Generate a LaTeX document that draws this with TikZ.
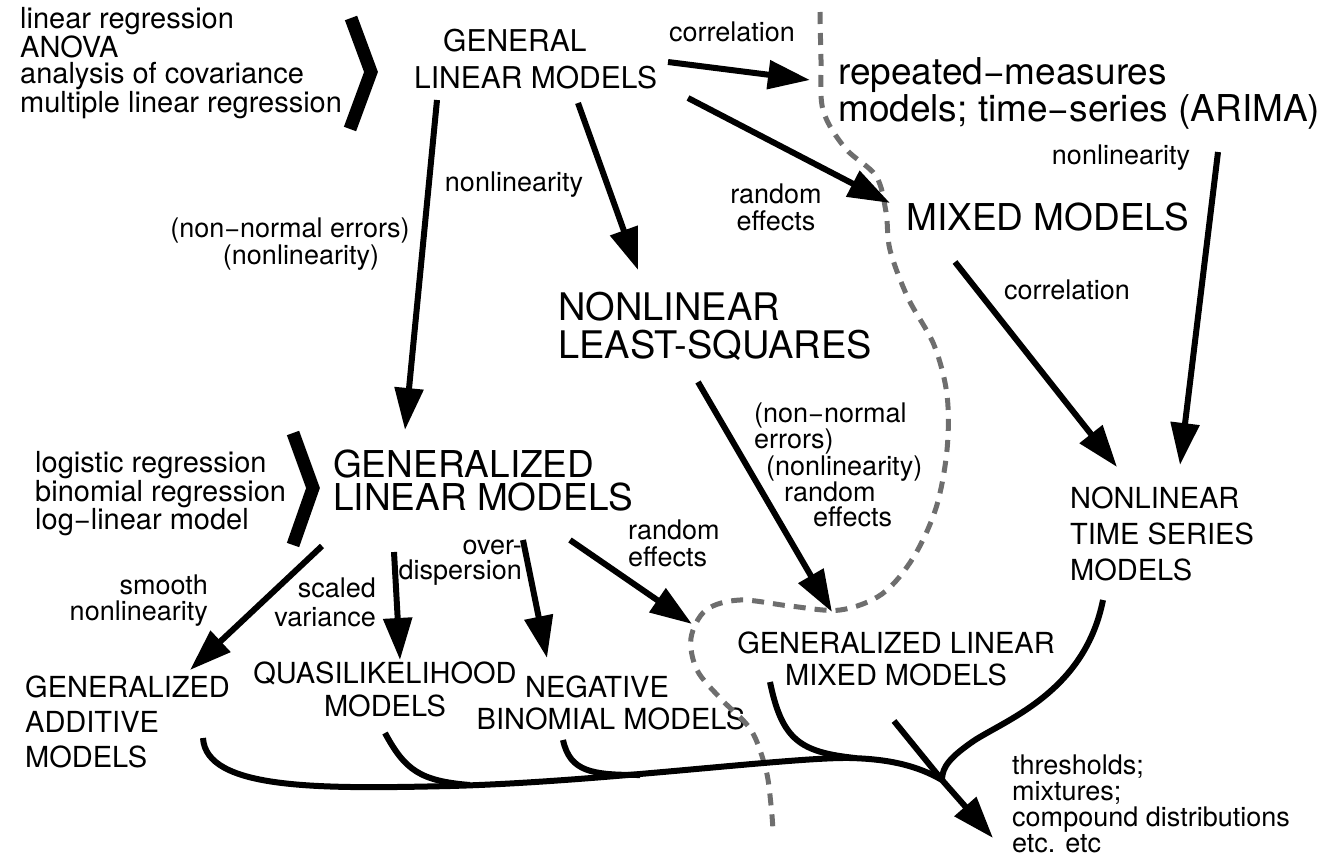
\documentclass[tikz,border=0pt]{standalone}
\usepackage{fontspec}
\setmainfont{TeX Gyre Heros}
\usetikzlibrary{arrows.meta}
\definecolor{sepgray}{RGB}{110,110,110}
\newcommand\myfs[2]{\fontsize{#1}{#2}\selectfont}
\tikzset{
  lbl/.style={inner sep=0pt, font=\myfs{27}{26}},
  big/.style={inner sep=0pt, font=\myfs{37}{37}},
  mid/.style={inner sep=0pt, font=\myfs{29}{35}},
  arr/.style={line width=6pt, -{Triangle[length=42pt,width=28pt]}},
  link/.style={line width=6pt},
  chev/.style={line width=13pt, miter limit=10},
  sepline/.style={line width=5pt, dash pattern=on 12pt off 9pt, color=sepgray},
}
\begin{document}
\begin{tikzpicture}[x=1pt,y=-1pt]
\useasboundingbox (0,0) rectangle (1328,856);

% ---------- texts ----------
\node[lbl, anchor=west, align=left, font=\myfs{29}{26.3}] (lst1) at (20,63)
  {linear regression\\ANOVA\\analysis of covariance\\multiple linear regression};
\node[mid, anchor=west, align=left, font=\myfs{30}{37}] (glm) at (414,59)
  {\hspace*{29pt}GENERAL\\LINEAR MODELS};
\node[lbl] (corrTop) at (732,32) {correlation};
\node[big, anchor=west, align=left] (rm) at (838,93)
  {repeated−measures\\models; time−series (ARIMA)};
\node[lbl] (nlTR) at (1121,158) {nonlinearity};
\node[lbl, align=center, font=\myfs{27}{27}] (reMix) at (776,207) {random\\effects};
\node[big] (mixed) at (1048,217) {MIXED MODELS};
\node[lbl] (nlMid) at (514,185) {nonlinearity};
\node[lbl, align=center, font=\myfs{27}{24}] (nnErr) at (290,244)
  {(non−normal errors)\\\hspace*{22pt}(nonlinearity)};
\node[lbl] (corrMid) at (1067,290) {correlation};
\node[big, anchor=west, align=left, font=\myfs{38}{38}] (nls) at (558,326)
  {NONLINEAR\\LEAST-SQUARES};
\node[lbl, anchor=west, align=left, font=\myfs{27}{25}] (nnErr2) at (754,465)
  {(non−normal\\errors)\\\hspace*{12pt}(nonlinearity)\\\hspace*{30pt}random\\\hspace*{59pt}effects};
\node[mid, anchor=west, align=left, font=\myfs{29}{36}] (nts) at (1070,534)
  {NONLINEAR\\TIME SERIES\\MODELS};
\node[lbl, anchor=west, align=left, font=\myfs{29}{26.5}] (lst2) at (35,494)
  {logistic regression\\binomial regression\\log−linear model};
\node[big, anchor=west, align=left, font=\myfs{37}{33}] (gzlm) at (333,481)
  {GENERALIZED\\LINEAR MODELS};
\node[lbl, anchor=east, align=right] (smooth) at (208,601) {smooth\\nonlinearity};
\node[lbl, anchor=east, align=right, font=\myfs{27}{29}] (scaled) at (376,602) {scaled\\variance};
\node[lbl, anchor=east, align=right, font=\myfs{27}{25}] (overd) at (522,563) {over-\\dispersion};
\node[lbl, anchor=west, align=left, font=\myfs{27}{27}] (reGz) at (628,543) {random\\effects};
\node[mid, anchor=west, align=left] (gam) at (25,722) {GENERALIZED\\ADDITIVE\\MODELS};
\node[mid, align=center, font=\myfs{29}{33}] (quasi) at (385,689)
  {QUASILIKELIHOOD\\MODELS};
\node[mid, align=center, font=\myfs{29}{32}] (negbin) at (611,703)
  {NEGATIVE\hspace*{28pt}\\BINOMIAL MODELS};
\node[mid, align=center, font=\myfs{29}{32}] (glmm) at (896,659)
  {GENERALIZED LINEAR\\MIXED MODELS};
\node[lbl, anchor=north west, align=left, font=\myfs{27}{26}] (thr) at (1012,755)
  {thresholds;\\mixtures;\\compound distributions\\etc. etc};

% ---------- chevrons ----------
\draw[chev] (351,18) -- (371,72) -- (350,129);
\draw[chev] (293,433) -- (313,488) -- (293,545);

% ---------- separator ----------
\draw[sepline] plot[smooth, tension=0.55] coordinates {
  (820,12) (821,60) (823,110) (845,148) (876,176) (886,212) (890,250)
  (908,298) (934,345) (947,395) (947,450) (936,508) (913,558) (882,594)
  (840,610) (790,606) (740,600) (706,610) (691,638) (697,670) (721,699)
  (751,730) (766,770) (771,805) (773,830)};

% ---------- arrow end points ----------
\coordinate (a1s) at (668,62);   \coordinate (a1e) at (810,80);
\coordinate (a2s) at (688,98);   \coordinate (a2e) at (890,203);
\coordinate (a3s) at (578,103);  \coordinate (a3e) at (638,270);
\coordinate (a4s) at (437,100);  \coordinate (a4e) at (405,430);
\coordinate (a5s) at (1218,152); \coordinate (a5e) at (1180,465);
\coordinate (a6s) at (955,262);  \coordinate (a6e) at (1117,467);
\coordinate (a7s) at (698,382);  \coordinate (a7e) at (832,612);
\coordinate (a8s) at (322,546);  \coordinate (a8e) at (190,670);
\coordinate (a9s) at (394,552);  \coordinate (a9e) at (400,660);
\coordinate (a10s) at (523,540); \coordinate (a10e) at (547,658);
\coordinate (a11s) at (570,540); \coordinate (a11e) at (692,624);

\draw[arr] (a1s) -- (a1e);
\draw[arr] (a2s) -- (a2e);
\draw[arr] (a3s) -- (a3e);
\draw[arr] (a4s) -- (a4e);
\draw[arr] (a5s) -- (a5e);
\draw[arr] (a6s) -- (a6e);
\draw[arr] (a7s) -- (a7e);
\draw[arr] (a8s) -- (a8e);
\draw[arr] (a9s) -- (a9e);
\draw[arr] (a10s) -- (a10e);
\draw[arr] (a11s) -- (a11e);

% ---------- bottom merging curves ----------
\coordinate (gamB) at (203,738);
\coordinate (quasiB) at (385,733);
\coordinate (negB) at (563,740);
\coordinate (glmmB) at (770,682);
\coordinate (diagS) at (894,721);
\coordinate (ntsB) at (1103,600);
\coordinate (junc) at (942,780);
\coordinate (tip) at (993,838);

\draw[arr] (gamB) .. controls (206,790) and (320,789) .. (450,786)
  .. controls (600,782) and (790,757) .. (850,758)
  .. controls (890,759) and (918,766) .. (junc) -- (tip);
\draw[link] (quasiB) .. controls (405,770) and (420,781) .. (470,785);
\draw[link] (negB) .. controls (570,772) and (592,775) .. (640,775);
\draw[link] (glmmB) .. controls (782,740) and (800,752) .. (855,758);
\draw[link] (diagS) -- (junc);
\draw[link] (ntsB) .. controls (1085,690) and (1010,718) .. (975,740)
  .. controls (950,757) and (942,767) .. (junc);
\end{tikzpicture}
\end{document}
